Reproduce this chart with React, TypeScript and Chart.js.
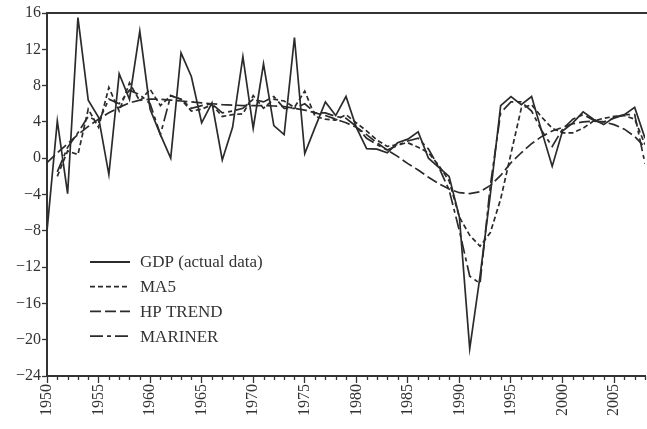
import React, { useEffect, useRef } from "react";
import { Chart, registerables } from "chart.js";

Chart.register(...registerables);

const years = [
  1950, 1951, 1952, 1953, 1954, 1955, 1956, 1957, 1958, 1959,
  1960, 1961, 1962, 1963, 1964, 1965, 1966, 1967, 1968, 1969,
  1970, 1971, 1972, 1973, 1974, 1975, 1976, 1977, 1978, 1979,
  1980, 1981, 1982, 1983, 1984, 1985, 1986, 1987, 1988, 1989,
  1990, 1991, 1992, 1993, 1994, 1995, 1996, 1997, 1998, 1999,
  2000, 2001, 2002, 2003, 2004, 2005, 2006, 2007, 2008,
];

const gdp = [
  -8.0, 4.1, -3.9, 15.5, 6.4, 4.5, -1.8, 9.3, 6.5, 14.0,
  5.4, 2.6, 0.0, 11.6, 9.0, 3.9, 6.1, -0.2, 3.4, 11.2,
  3.3, 10.4, 3.6, 2.6, 13.3, 0.5, 3.4, 6.2, 4.7, 6.8,
  3.4, 1.05, 1.0, 0.6, 1.7, 2.1, 2.9, 0.0, -1.0, -2.0,
  -6.5, -21.0, -13.0, -4.0, 5.8, 6.8, 5.9, 6.8, 2.9, -0.9,
  3.0, 3.9, 5.1, 4.3, 3.7, 4.5, 4.8, 5.6, 2.2,
];

const ma5 = [
  null, -2.0, 0.8, 0.4, 5.4, 3.4, 7.8, 5.2, 8.3, 6.3,
  7.6, 5.8, 6.9, 6.5, 5.2, 5.4, 5.9, 4.6, 4.8, 4.9,
  6.9, 5.5, 6.5, 6.3, 5.6, 7.4, 4.6, 4.3, 4.2, 4.8,
  3.9, 3.0, 2.0, 1.3, 1.5, 1.7, 1.2, 0.6, -0.8, -2.5,
  -6.5, -8.5, -9.7, -8.2, -4.5, 0.5, 5.5, 5.9, 4.5, 3.3,
  2.8, 2.8, 3.3, 4.1, 4.4, 4.6, 4.7, 4.3, 1.5,
];

const hpTrend = [
  -0.5, 0.6, 1.6, 2.6, 3.5, 4.3, 5.0, 5.6, 6.1, 6.4,
  6.5, 6.5, 6.4, 6.3, 6.2, 6.1, 6.0, 5.9, 5.85, 5.8,
  5.8, 5.8, 5.75, 5.7, 5.5, 5.3, 5.0, 4.7, 4.3, 3.9,
  3.4, 2.6, 1.7, 0.9, 0.2, -0.6, -1.3, -2.1, -2.8, -3.4,
  -3.8, -3.9, -3.7, -3.0, -1.9, -0.5, 0.6, 1.6, 2.4, 3.0,
  3.4, 3.8, 4.0, 4.1, 4.0, 3.7, 3.2, 2.4, 1.2,
];

const mariner = [
  null, -1.5, 1.2, 2.8, 4.6, 4.0, 6.5, 6.0, 7.5, 7.0,
  6.0, 2.6, 6.9, 6.5, 5.5, 5.8, 6.0, 5.0, 5.2, 5.5,
  6.5, 6.2, 6.8, 5.5, 5.5, 6.0, 5.0, 5.0, 4.6, 4.4,
  3.5, 2.2, 1.5, 0.9, 1.4, 1.9, 2.2, 1.0, -1.0, -3.5,
  -8.0, -13.0, -13.8, -3.0, 5.0, 6.2, 6.2, 5.2, 3.0, 1.3,
  3.2, 4.3, 4.8, 4.2, 4.0, 4.4, 4.8, 4.8, -0.6,
];

const seriesNames = ["GDP (actual data)", "MA5", "HP TREND", "MARINER"];
const yTicks = [-24, -20, -16, -12, -8, -4, 0, 4, 8, 12, 16];

const INK = "#2b2b2b";
const FONT = "'Liberation Serif', 'Times New Roman', serif";
const dashes: number[][] = [[], [5, 3], [11, 4], [13, 4, 4, 4]];

const toPoints = (vals: (number | null)[]) =>
  years.map((yr, i) => ({ x: yr, y: vals[i] }));

const overlayPlugin = {
  id: "overlay",
  afterDraw(chart: any) {
    const { ctx, chartArea } = chart;
    const xs = chart.scales.x;
    ctx.save();
    // top frame line
    ctx.strokeStyle = "#333";
    ctx.lineWidth = 2;
    ctx.beginPath();
    ctx.moveTo(chartArea.left - 1, chartArea.top);
    ctx.lineTo(chart.width, chartArea.top);
    ctx.stroke();

    // minor year ticks (shorter than the labelled ones)
    ctx.lineWidth = 1.3;
    years.forEach((yr) => {
      if (yr % 5 === 0) return;
      const px = Math.round(xs.getPixelForValue(yr)) + 0.5;
      ctx.beginPath();
      ctx.moveTo(px, chartArea.bottom);
      ctx.lineTo(px, chartArea.bottom + 4);
      ctx.stroke();
    });

    // legend inside plot
    const lx0 = chartArea.left + 43;
    const lx1 = lx0 + 40;
    const tx = lx1 + 10;
    const y0 = chartArea.top + 249;
    const dy = 24.7;
    ctx.font = "17px " + FONT;
    ctx.fillStyle = "#333";
    ctx.textBaseline = "middle";
    ctx.textAlign = "left";
    seriesNames.forEach((name, i) => {
      const y = y0 + i * dy;
      ctx.setLineDash(dashes[i]);
      ctx.strokeStyle = INK;
      ctx.lineWidth = 1.8;
      ctx.beginPath();
      ctx.moveTo(lx0, y);
      ctx.lineTo(lx1, y);
      ctx.stroke();
      ctx.setLineDash([]);
      ctx.fillText(name, tx, y + 1);
    });
    ctx.restore();
  },
};

export default function App() {
  const ref = useRef<HTMLCanvasElement | null>(null);

  useEffect(() => {
    if (!ref.current) return;
    const allSeries = [gdp, ma5, hpTrend, mariner];
    const chart = new Chart(ref.current, {
      type: "line",
      data: {
        datasets: allSeries.map((vals, i) => ({
          label: seriesNames[i],
          data: toPoints(vals),
          borderColor: INK,
          borderWidth: 1.7,
          borderDash: dashes[i],
          pointRadius: 0,
          fill: false,
          tension: 0,
          spanGaps: false,
        })),
      },
      options: {
        animation: false,
        responsive: true,
        maintainAspectRatio: false,
        layout: { padding: { top: 13, right: 2, left: 0, bottom: 0 } },
        plugins: {
          legend: { display: false },
          tooltip: { enabled: false },
        },
        scales: {
          x: {
            type: "linear",
            min: 1950,
            max: 2008,
            afterFit(scale: any) {
              scale.height = 53;
            },
            afterBuildTicks(scale: any) {
              scale.ticks = years
                .filter((v) => v % 5 === 0)
                .map((v) => ({ value: v }));
            },
            ticks: {
              autoSkip: false,
              maxRotation: 90,
              minRotation: 90,
              padding: 1,
              color: "#333",
              font: { family: FONT, size: 16 },
              callback: (v: any) => String(v),
            },
            grid: {
              display: true,
              drawOnChartArea: false,
              drawTicks: true,
              tickLength: 7,
              tickColor: "#333",
              tickWidth: 1.3,
            },
            border: { display: true, color: "#333", width: 2 },
          },
          y: {
            type: "linear",
            min: -24,
            max: 16,
            afterFit(scale: any) {
              scale.width = 47;
            },
            afterBuildTicks(scale: any) {
              scale.ticks = yTicks.map((v) => ({ value: v }));
            },
            ticks: {
              padding: 1,
              color: "#333",
              font: { family: FONT, size: 16 },
              callback: (v: any) =>
                Number(v) < 0 ? "\u2212" + Math.abs(Number(v)) : String(v),
            },
            grid: {
              display: true,
              drawOnChartArea: false,
              drawTicks: true,
              tickLength: 5,
              tickColor: "#333",
              tickWidth: 1.3,
            },
            border: { display: true, color: "#333", width: 2 },
          },
        },
      },
      plugins: [overlayPlugin],
    });
    return () => chart.destroy();
  }, []);

  return (
    <div
      style={{
        position: "fixed",
        left: 0,
        top: 0,
        width: 647,
        height: 429,
        background: "#fff",
      }}
    >
      <canvas ref={ref} />
    </div>
  );
}
